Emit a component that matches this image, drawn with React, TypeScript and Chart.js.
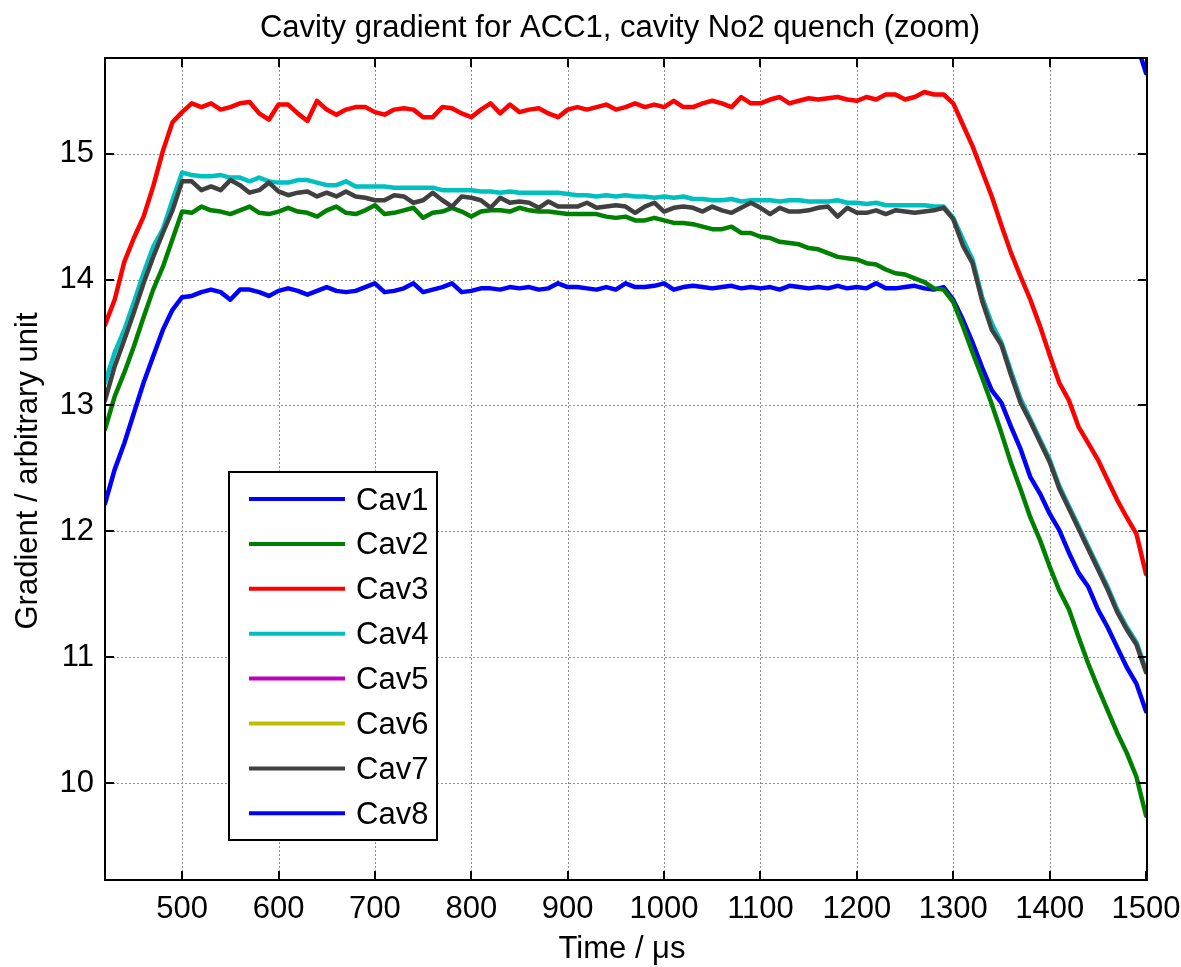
import React, { useEffect, useRef } from 'react';
import { Chart, registerables } from 'chart.js';

Chart.register(...registerables);

// ---------- data ----------
const times = [
  420, 430, 440, 450, 460, 470, 480, 490, 500,
  510, 520, 530, 540, 550, 560, 570, 580, 590, 600,
  610, 620, 630, 640, 650, 660, 670, 680, 690, 700,
  710, 720, 730, 740, 750, 760, 770, 780, 790, 800,
  810, 820, 830, 840, 850, 860, 870, 880, 890, 900,
  910, 920, 930, 940, 950, 960, 970, 980, 990, 1000,
  1010, 1020, 1030, 1040, 1050, 1060, 1070, 1080, 1090, 1100,
  1110, 1120, 1130, 1140, 1150, 1160, 1170, 1180, 1190, 1200,
  1210, 1220, 1230, 1240, 1250, 1260, 1270, 1280, 1290, 1300,
  1310, 1320, 1330, 1340, 1350, 1360, 1370, 1380, 1390, 1400,
  1410, 1420, 1430, 1440, 1450, 1460, 1470, 1480, 1490, 1500,
];

const cav1 = [
  12.22, 12.49, 12.70, 12.94, 13.18, 13.39, 13.60, 13.76, 13.86,
  13.87, 13.90, 13.92, 13.90, 13.84, 13.92, 13.92, 13.90, 13.87, 13.91,
  13.93, 13.91, 13.88, 13.91, 13.94, 13.91, 13.90, 13.91, 13.94, 13.97,
  13.90, 13.91, 13.93, 13.97, 13.90, 13.92, 13.94, 13.97, 13.90, 13.91,
  13.93, 13.93, 13.92, 13.94, 13.93, 13.94, 13.92, 13.93, 13.97, 13.94,
  13.94, 13.93, 13.92, 13.94, 13.92, 13.97, 13.94, 13.94, 13.95, 13.97,
  13.92, 13.94, 13.95, 13.94, 13.93, 13.94, 13.95, 13.93, 13.94, 13.93,
  13.94, 13.92, 13.95, 13.94, 13.93, 13.94, 13.93, 13.95, 13.93, 13.94,
  13.93, 13.97, 13.93, 13.93, 13.94, 13.95, 13.93, 13.92, 13.94, 13.84,
  13.68, 13.50, 13.30, 13.12, 13.02, 12.83, 12.65, 12.43, 12.30, 12.14,
  12.01, 11.83, 11.67, 11.56, 11.38, 11.24, 11.08, 10.92, 10.79, 10.57,
];

const cav2 = [
  12.81, 13.07, 13.26, 13.47, 13.70, 13.92, 14.10, 14.32, 14.54,
  14.53, 14.58, 14.55, 14.54, 14.52, 14.55, 14.58, 14.53, 14.52, 14.54,
  14.57, 14.54, 14.53, 14.50, 14.55, 14.58, 14.53, 14.52, 14.55, 14.59,
  14.52, 14.53, 14.55, 14.57, 14.49, 14.53, 14.54, 14.57, 14.54, 14.50,
  14.54, 14.55, 14.55, 14.54, 14.57, 14.55, 14.54, 14.54, 14.53, 14.52,
  14.52, 14.52, 14.52, 14.50, 14.49, 14.50, 14.47, 14.47, 14.49, 14.47,
  14.45, 14.45, 14.44, 14.42, 14.40, 14.40, 14.42, 14.37, 14.37, 14.34,
  14.33, 14.30, 14.29, 14.28, 14.25, 14.24, 14.21, 14.18, 14.17, 14.16,
  14.13, 14.12, 14.08, 14.05, 14.04, 14.01, 13.98, 13.93, 13.92, 13.82,
  13.63, 13.42, 13.22, 13.01, 12.78, 12.54, 12.33, 12.11, 11.93, 11.72,
  11.53, 11.38, 11.16, 10.95, 10.76, 10.58, 10.40, 10.24, 10.05, 9.74,
];

const cav3 = [
  13.64, 13.84, 14.14, 14.33, 14.50, 14.74, 15.02, 15.25, 15.33,
  15.40, 15.37, 15.40, 15.35, 15.37, 15.40, 15.41, 15.32, 15.27, 15.39,
  15.39, 15.32, 15.26, 15.42, 15.35, 15.31, 15.35, 15.37, 15.37, 15.33,
  15.31, 15.35, 15.36, 15.35, 15.29, 15.29, 15.37, 15.36, 15.32, 15.29,
  15.35, 15.40, 15.32, 15.39, 15.33, 15.35, 15.36, 15.32, 15.29, 15.35,
  15.37, 15.35, 15.37, 15.39, 15.35, 15.37, 15.40, 15.37, 15.39, 15.37,
  15.42, 15.37, 15.37, 15.40, 15.42, 15.40, 15.37, 15.45, 15.40, 15.40,
  15.43, 15.45, 15.40, 15.42, 15.44, 15.43, 15.44, 15.45, 15.43, 15.42,
  15.45, 15.43, 15.47, 15.47, 15.43, 15.45, 15.49, 15.47, 15.47, 15.40,
  15.23, 15.06, 14.86, 14.66, 14.43, 14.21, 14.02, 13.84, 13.63, 13.40,
  13.18, 13.04, 12.83, 12.70, 12.57, 12.41, 12.25, 12.11, 11.98, 11.66,
];

const cav4 = [
  13.18, 13.42, 13.60, 13.82, 14.05, 14.26, 14.40, 14.63, 14.85,
  14.83, 14.82, 14.82, 14.83, 14.81, 14.81, 14.78, 14.81, 14.78, 14.77,
  14.77, 14.79, 14.79, 14.77, 14.75, 14.75, 14.78, 14.74, 14.74, 14.74,
  14.74, 14.73, 14.73, 14.73, 14.73, 14.73, 14.71, 14.71, 14.71, 14.71,
  14.70, 14.70, 14.69, 14.70, 14.69, 14.69, 14.69, 14.69, 14.69, 14.68,
  14.67, 14.67, 14.66, 14.67, 14.66, 14.67, 14.66, 14.66, 14.65, 14.66,
  14.65, 14.66, 14.64, 14.64, 14.63, 14.63, 14.64, 14.62, 14.63, 14.63,
  14.63, 14.62, 14.63, 14.63, 14.62, 14.62, 14.62, 14.63, 14.61, 14.61,
  14.60, 14.61, 14.59, 14.59, 14.59, 14.59, 14.59, 14.58, 14.58, 14.49,
  14.32, 14.16, 13.86, 13.65, 13.50, 13.27, 13.05, 12.89, 12.73, 12.57,
  12.36, 12.20, 12.04, 11.88, 11.72, 11.56, 11.38, 11.24, 11.12, 10.90,
];

const cav5: number[] = [];
const cav6: number[] = [];

const cav7 = [
  13.04, 13.31, 13.52, 13.74, 13.97, 14.18, 14.37, 14.55, 14.78,
  14.78, 14.71, 14.74, 14.71, 14.79, 14.75, 14.69, 14.71, 14.77, 14.70,
  14.67, 14.69, 14.70, 14.66, 14.69, 14.66, 14.70, 14.66, 14.65, 14.63,
  14.63, 14.67, 14.66, 14.61, 14.63, 14.69, 14.63, 14.58, 14.66, 14.65,
  14.63, 14.57, 14.65, 14.61, 14.62, 14.61, 14.57, 14.62, 14.58, 14.58,
  14.58, 14.61, 14.57, 14.58, 14.59, 14.58, 14.53, 14.58, 14.61, 14.54,
  14.57, 14.58, 14.57, 14.54, 14.58, 14.55, 14.53, 14.57, 14.61, 14.57,
  14.52, 14.57, 14.54, 14.54, 14.55, 14.57, 14.58, 14.50, 14.57, 14.53,
  14.53, 14.55, 14.52, 14.55, 14.54, 14.53, 14.54, 14.55, 14.57, 14.48,
  14.27, 14.13, 13.83, 13.60, 13.48, 13.24, 13.02, 12.87, 12.71, 12.55,
  12.34, 12.18, 12.02, 11.86, 11.70, 11.54, 11.36, 11.22, 11.10, 10.88,
];

const cav8Times = [1480, 1490, 1500];
const cav8 = [16.1, 15.88, 15.64];

const seriesNames = ['Cav1', 'Cav2', 'Cav3', 'Cav4', 'Cav5', 'Cav6', 'Cav7', 'Cav8'];
const seriesColors = ['#0000ff', '#008000', '#ff0000', '#00bfbf', '#bf00bf', '#bfbf00', '#404040', '#0000ff'];

const xTicks = [500, 600, 700, 800, 900, 1000, 1100, 1200, 1300, 1400, 1500];
const yTicks = [10, 11, 12, 13, 14, 15];

const titleText = 'Cavity gradient for ACC1, cavity No2 quench (zoom)';
const xTitle = 'Time / \u03bcs';
const yTitle = 'Gradient / arbitrary unit';

const xMin = 420;
const xMax = 1501;
const yMin = 9.23;
const yMax = 15.76;

// ---------- helpers ----------
const FONT = '"Liberation Sans", Arial, Helvetica, sans-serif';
const FS = 31;

function pts(xs: number[], ys: number[]) {
  return ys.map((v, i) => ({ x: xs[i], y: v }));
}

const framePlugin = {
  id: 'matlabFrame',
  beforeDatasetsDraw(chart: any) {
    const { ctx, chartArea: a, scales } = chart;
    const x = scales.x;
    const y = scales.y;
    ctx.save();
    ctx.strokeStyle = '#8f8f8f';
    ctx.lineWidth = 1;
    ctx.setLineDash([2, 2]);
    for (const t of xTicks) {
      const px = Math.round(x.getPixelForValue(t)) + 0.5;
      ctx.beginPath();
      ctx.moveTo(px, a.top);
      ctx.lineTo(px, a.bottom);
      ctx.stroke();
    }
    for (const t of yTicks) {
      const py = Math.round(y.getPixelForValue(t)) + 0.5;
      ctx.beginPath();
      ctx.moveTo(a.left, py);
      ctx.lineTo(a.right, py);
      ctx.stroke();
    }
    ctx.restore();
  },
  afterDatasetsDraw(chart: any) {
    const { ctx, chartArea: a, scales } = chart;
    const x = scales.x;
    const y = scales.y;
    ctx.save();
    // axes box
    ctx.setLineDash([]);
    ctx.strokeStyle = '#000';
    ctx.lineWidth = 2;
    ctx.strokeRect(a.left, a.top, a.right - a.left, a.bottom - a.top);
    // inner tick marks
    ctx.lineWidth = 2;
    const tl = 9;
    for (const t of xTicks) {
      const px = Math.round(x.getPixelForValue(t));
      ctx.beginPath();
      ctx.moveTo(px, a.bottom);
      ctx.lineTo(px, a.bottom - tl);
      ctx.moveTo(px, a.top);
      ctx.lineTo(px, a.top + tl);
      ctx.stroke();
    }
    for (const t of yTicks) {
      const py = Math.round(y.getPixelForValue(t));
      ctx.beginPath();
      ctx.moveTo(a.left, py);
      ctx.lineTo(a.left + tl, py);
      ctx.moveTo(a.right, py);
      ctx.lineTo(a.right - tl, py);
      ctx.stroke();
    }

    // legend
    const lx = 229, ly = 472, lw = 208, lh = 368;
    ctx.fillStyle = '#fff';
    ctx.fillRect(lx, ly, lw, lh);
    ctx.strokeStyle = '#000';
    ctx.lineWidth = 2;
    ctx.strokeRect(lx, ly, lw, lh);
    ctx.font = `${FS}px ${FONT}`;
    ctx.textBaseline = 'middle';
    ctx.textAlign = 'left';
    chart.data.datasets.forEach((ds: any, i: number) => {
      const cy = 499 + i * 44.9;
      ctx.strokeStyle = ds.borderColor;
      ctx.lineWidth = 4;
      ctx.beginPath();
      ctx.moveTo(249, cy);
      ctx.lineTo(345, cy);
      ctx.stroke();
      ctx.fillStyle = '#000';
      ctx.fillText(ds.label, 356, cy + 2);
    });

    // titles
    ctx.fillStyle = '#000';
    ctx.textAlign = 'center';
    ctx.textBaseline = 'alphabetic';
    ctx.fillText(titleText, 620, 37);
    ctx.fillText(xTitle, 622, 958);
    ctx.save();
    ctx.translate(37, 471);
    ctx.rotate(-Math.PI / 2);
    ctx.fillText(yTitle, 0, 0);
    ctx.restore();
    ctx.restore();
  },
};

export default function App() {
  const canvasRef = useRef<HTMLCanvasElement | null>(null);

  useEffect(() => {
    const canvas = canvasRef.current;
    if (!canvas) return;
    const all = [cav1, cav2, cav3, cav4, cav5, cav6, cav7, cav8];
    const datasets = all.map((vals, i) => ({
      label: seriesNames[i],
      data: i === 7 ? pts(cav8Times, vals) : pts(times, vals),
      borderColor: seriesColors[i],
      backgroundColor: seriesColors[i],
      borderWidth: 4.5,
      borderJoinStyle: 'round' as const,
      borderCapStyle: 'round' as const,
      pointRadius: 0,
      tension: 0,
      fill: false,
      clip: 0,
      order: 8 - i,
    }));

    const chart = new Chart(canvas, {
      type: 'line',
      data: { datasets },
      options: {
        animation: false,
        responsive: false,
        maintainAspectRatio: false,
        layout: { padding: { left: 0, right: 34, top: 58, bottom: 0 } },
        plugins: {
          legend: { display: false },
          title: { display: false },
          tooltip: { enabled: false },
        },
        scales: {
          x: {
            type: 'linear',
            min: xMin,
            max: xMax,
            grid: { display: false, drawTicks: false },
            border: { display: false },
            afterBuildTicks: (s: any) => {
              s.ticks = xTicks.map((v) => ({ value: v }));
            },
            afterFit: (s: any) => {
              s.height = 87;
              s.paddingLeft = 0;
              s.paddingRight = 0;
            },
            ticks: {
              autoSkip: false,
              maxRotation: 0,
              padding: 11,
              color: '#000',
              font: { family: FONT, size: FS },
              callback: (v: any) => String(v),
            },
          },
          y: {
            type: 'linear',
            min: yMin,
            max: yMax,
            grid: { display: false, drawTicks: false },
            border: { display: false },
            afterBuildTicks: (s: any) => {
              s.ticks = yTicks.map((v) => ({ value: v }));
            },
            afterFit: (s: any) => {
              s.width = 105;
              s.paddingTop = 0;
              s.paddingBottom = 0;
            },
            ticks: {
              autoSkip: false,
              padding: 11,
              color: '#000',
              font: { family: FONT, size: FS },
              callback: (v: any) => String(v),
            },
          },
        },
      },
      plugins: [framePlugin],
    });

    return () => chart.destroy();
  }, []);

  return (
    <div style={{ position: 'absolute', left: 0, top: 0, width: 1181, height: 967, background: '#fff' }}>
      <canvas ref={canvasRef} width={1181} height={967} style={{ display: 'block' }} />
    </div>
  );
}
